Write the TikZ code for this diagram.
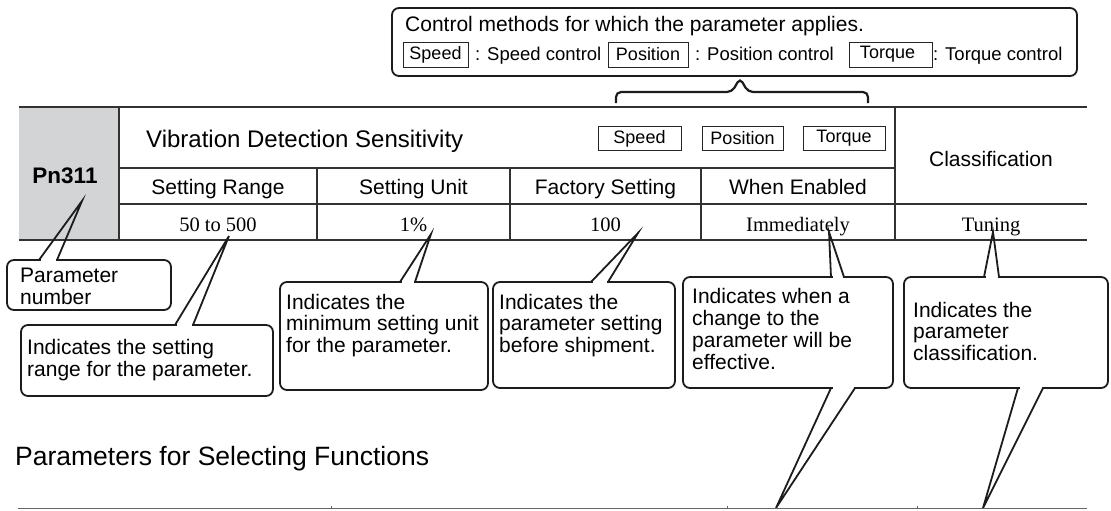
\documentclass[tikz,border=0pt]{standalone}
\usepackage{fontspec}
\setmainfont{Liberation Sans}
\newfontfamily\tnr{Liberation Serif}
\usetikzlibrary{calc}
\definecolor{pngray}{RGB}{211,212,214}
\definecolor{lnc}{RGB}{50,50,50}
\definecolor{cbc}{RGB}{28,28,28}
\begin{document}
\begin{tikzpicture}[x=1pt,y=-1pt,
 tl/.style={draw=lnc,line width=1.2pt},
 cbox/.style={draw=cbc,fill=white,line width=1.8pt,rounded corners=7pt,outer sep=0pt,inner sep=0pt},
 cline/.style={draw=cbc,line width=1.8pt},
 tag/.style={draw=black!85,line width=0.9pt,inner sep=0pt,outer sep=0pt,minimum height=24pt,font=\fontsize{18}{18}\selectfont},
 ctext/.style={inner sep=0pt,anchor=base west,font=\fontsize{21}{22}\selectfont},
 stext/.style={inner sep=0pt,anchor=base west,font=\fontsize{18.5}{19}\selectfont},
 hd/.style={inner sep=0pt,anchor=base,font=\fontsize{21}{22}\selectfont},
 val/.style={inner sep=0pt,anchor=base,font=\tnr\fontsize{20.5}{21}\selectfont},
]
\useasboundingbox (0,0) rectangle (1111,511);

% ---------- table ----------
\fill[pngray] (19,107) rectangle (119,240);
\draw[tl] (19,107) -- (1087,107);
\draw[tl] (119,168) -- (895,168);
\draw[tl] (119,204) -- (1087,204);
\draw[tl] (19,240) -- (1087,240);
\draw[tl] (119,107) -- (119,240);
\draw[tl] (895,107) -- (895,240);
\foreach \cx in {317,510,701} \draw[tl] (\cx,168) -- (\cx,240);

\node[inner sep=0pt,anchor=base,font=\bfseries\fontsize{22.5}{23}\selectfont] (pn) at (65,183) {Pn311};
\node[inner sep=0pt,anchor=base west,font=\fontsize{24}{25}\selectfont] (title) at (146,147) {Vibration Detection Sensitivity};
\node[tag,minimum width=83pt] (tspeed) at (639.5,138.5) {Speed};
\node[tag,minimum width=81pt] (tpos) at (742.5,138.5) {Position};
\node[tag,minimum width=82pt] (ttor) at (844,138.5) {Torque};

\node[hd] (h1) at (218,194) {Setting Range};
\node[hd] (h2) at (413.5,194) {Setting Unit};
\node[hd] (h3) at (605.5,194) {Factory Setting};
\node[hd] (h4) at (798,194) {When Enabled};
\node[hd] (h5) at (991,166) {Classification};

\node[val] (v1) at (218,231) {50 to 500};
\node[val] (v2) at (413.5,231) {1\%};
\node[val] (v3) at (605.5,231) {100};
\node[val] (v4) at (798,231) {Immediately};
\node[val] (v5) at (991,231) {Tuning};

% ---------- top callout ----------
\node[cbox,anchor=north west,minimum width=685pt,minimum height=68pt] (cm) at (392,8) {};
\node[ctext] (cm1) at (405,32) {Control methods for which the parameter applies.};
\node[tag,minimum width=65pt,minimum height=25pt] (ks) at (435.5,54.5) {Speed};
\node[stext] (ks2) at (475,61) {: Speed control};
\node[tag,minimum width=80pt,minimum height=25pt] (kp) at (648,54.5) {Position};
\node[stext] (kp2) at (695,61) {: Position control};
\node[tag,minimum width=83pt,minimum height=25pt] (kt) at (890.5,54.5) {Torque\hspace*{6pt}};
\node[stext] (kt2) at (933,61) {: Torque control};

\coordinate (brtip) at (740,78);
\draw[cbc,line width=2.2pt,rounded corners=5pt] (616,103) -- (616,92) -- (732,92) -- (brtip) -- (748,92) -- (868,92) -- (868,103);

% ---------- callouts ----------
% Parameter number
\node[cbox,anchor=north west,minimum width=164pt,minimum height=50pt] (bpn) at (7,260) {};
\coordinate (tpn) at (82,201);
\fill[white] ($(40.5,0 |- bpn.north)+(0,-2)$) rectangle ($(55.5,0 |- bpn.north)+(0,2)$);
\draw[cline] (39,0 |- bpn.north) -- (tpn) -- (57,0 |- bpn.north);
\foreach \t [count=\i from 0] in {Parameter,number}
  \node[ctext] (xpn\i) at (20,{282+22*\i}) {\t};

% Setting range
\node[cbox,anchor=north west,minimum width=252pt,minimum height=71pt] (brg) at (21,325) {};
\coordinate (trg) at (229,236);
\fill[white] ($(176.5,0 |- brg.north)+(0,-2)$) rectangle ($(191.5,0 |- brg.north)+(0,2)$);
\draw[cline] (175,0 |- brg.north) -- (trg) -- (193,0 |- brg.north);
\foreach \t [count=\i from 0] in {Indicates the setting,range for the parameter.}
  \node[ctext] (xrg\i) at (27,{354+22*\i}) {\t};

% Setting unit
\node[cbox,anchor=north west,minimum width=208pt,minimum height=108pt] (bun) at (280,282) {};
\coordinate (tun) at (431,234);
\fill[white] ($(401.5,0 |- bun.north)+(0,-2)$) rectangle ($(413.5,0 |- bun.north)+(0,2)$);
\draw[cline] (400,0 |- bun.north) -- (tun) -- (415,0 |- bun.north);
\foreach \t [count=\i from 0] in {Indicates the,minimum setting unit,for the parameter.}
  \node[ctext] (xun\i) at (286,{309+21.5*\i}) {\t};

% Factory setting
\node[cbox,anchor=north west,minimum width=182pt,minimum height=106pt] (bfa) at (493,282) {};
\coordinate (tfa) at (638,233);
\fill[white] ($(592.5,0 |- bfa.north)+(0,-2)$) rectangle ($(606.5,0 |- bfa.north)+(0,2)$);
\draw[cline] (591,0 |- bfa.north) -- (tfa) -- (608,0 |- bfa.north);
\foreach \t [count=\i from 0] in {Indicates the,parameter setting,before shipment.}
  \node[ctext] (xfa\i) at (499,{309+21.5*\i}) {\t};

% When enabled
\node[cbox,anchor=north west,minimum width=210pt,minimum height=111pt] (bwe) at (683,277) {};
\coordinate (twe) at (829,232);
\coordinate (twd) at (776,508);
\fill[white] ($(832.5,0 |- bwe.north)+(0,-2)$) rectangle ($(842.5,0 |- bwe.north)+(0,2)$);
\draw[cline] (831,0 |- bwe.north) -- (twe) -- (844,0 |- bwe.north);
\fill[white] ($(832.5,0 |- bwe.south)+(0,-2)$) rectangle ($(853.5,0 |- bwe.south)+(0,2)$);
\draw[cline] (831,0 |- bwe.south) -- (twd) -- (855,0 |- bwe.south);
\foreach \t [count=\i from 0] in {Indicates when a,change to the,parameter will be,effective.}
  \node[ctext] (xwe\i) at (692,{303+22.3*\i}) {\t};

% Classification
\node[cbox,anchor=north west,minimum width=204pt,minimum height=111pt] (bcl) at (904,277) {};
\coordinate (tcl) at (993,232);
\coordinate (tcd) at (983,508);
\fill[white] ($(985.5,0 |- bcl.north)+(0,-2)$) rectangle ($(997.5,0 |- bcl.north)+(0,2)$);
\draw[cline] (984,0 |- bcl.north) -- (tcl) -- (999,0 |- bcl.north);
\fill[white] ($(1019.5,0 |- bcl.south)+(0,-2)$) rectangle ($(1041.5,0 |- bcl.south)+(0,2)$);
\draw[cline] (1018,0 |- bcl.south) -- (tcd) -- (1043,0 |- bcl.south);
\foreach \t [count=\i from 0] in {Indicates the,parameter,classification.}
  \node[ctext] (xcl\i) at (913,{317+21.5*\i}) {\t};

% ---------- next section ----------
\node[inner sep=0pt,anchor=base west,font=\fontsize{26.5}{27}\selectfont] (head) at (15,465) {Parameters for Selecting Functions};
\draw[draw=black!60,line width=1.6pt] (18,508.5) -- (1087,508.5);
\foreach \cx in {331,727,917} \draw[draw=black!60,line width=0.8pt] (\cx,508.5) -- (\cx,506);
\end{tikzpicture}
\end{document}
